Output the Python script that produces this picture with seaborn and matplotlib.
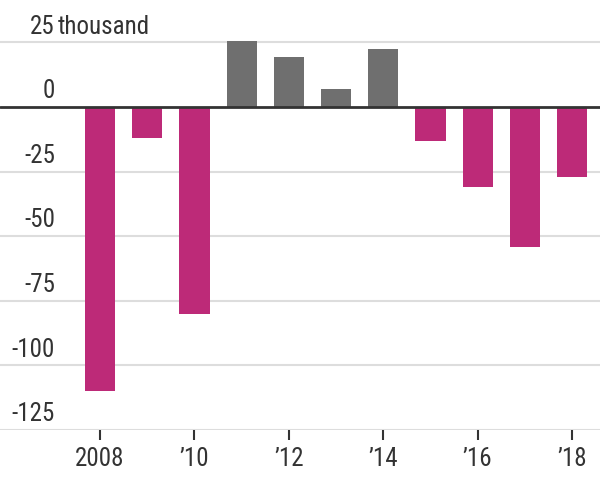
import matplotlib
matplotlib.use("Agg")
import matplotlib.pyplot as plt
from matplotlib import font_manager
import seaborn as sns
import pandas as pd

# net change per year, thousands
years = [2008, 2009, 2010, 2011, 2012, 2013, 2014, 2015, 2016, 2017, 2018]
values = [-110, -12, -80, 25.6, 19.4, 7, 22.5, -13, -31, -54, -27]
tick_years = [2008, 2010, 2012, 2014, 2016, 2018]
tick_labels = ["2008", "\u201910", "\u201912", "\u201914", "\u201916", "\u201918"]
y_ticks = [25, 0, -25, -50, -75, -100, -125]

NEG = "#bd2a78"
POS = "#6f6f6f"
TXT = "#333333"

sns.set_theme(style="white")
names = {f.name for f in font_manager.fontManager.ttflist}
fam = [n for n in ["Roboto Condensed", "Liberation Sans Narrow", "Open Sans"] if n in names]
plt.rcParams["font.family"] = fam + ["DejaVu Sans"]

df = pd.DataFrame({"year": [str(y) for y in years], "value": values})
df["sign"] = ["neg" if v < 0 else "pos" for v in values]

fig = plt.figure(figsize=(6, 4.95), dpi=100)
ax = fig.add_axes([0, 65 / 495, 1, 400.5 / 495])

sns.barplot(data=df, x="year", y="value", hue="sign", order=df["year"],
            palette={"neg": NEG, "pos": POS}, width=0.64, legend=False,
            saturation=1, linewidth=0, ax=ax)

ax.set_ylim(-125, 30)
ax.set_xlim(-2.119, 10.593)

for t in y_ticks:
    if t == 0:
        continue
    ax.axhline(t, color="#dddddd", lw=1.5, zorder=0)
ax.axhline(0, color=TXT, lw=2, zorder=3)

# y labels sit above their gridlines
ytr = ax.get_yaxis_transform()
for t in y_ticks:
    ax.text(0.0917, t + 1.5, str(t), transform=ytr,
            ha="right", va="bottom", fontsize=18, color=TXT)
ax.text(0.097, 25 + 1.5, "thousand", transform=ytr,
        ha="left", va="bottom", fontsize=18, color=TXT)

pos = [years.index(y) for y in tick_years]
ax.set_xticks(pos)
ax.set_xticklabels(tick_labels, fontsize=18, color=TXT)
ax.set_yticks([])
ax.tick_params(axis="x", bottom=True, length=7, width=1.5, color=TXT, pad=5)
ax.set_xlabel("")
ax.set_ylabel("")
for s in ax.spines.values():
    s.set_visible(False)

fig.savefig("out.png", dpi=100)
